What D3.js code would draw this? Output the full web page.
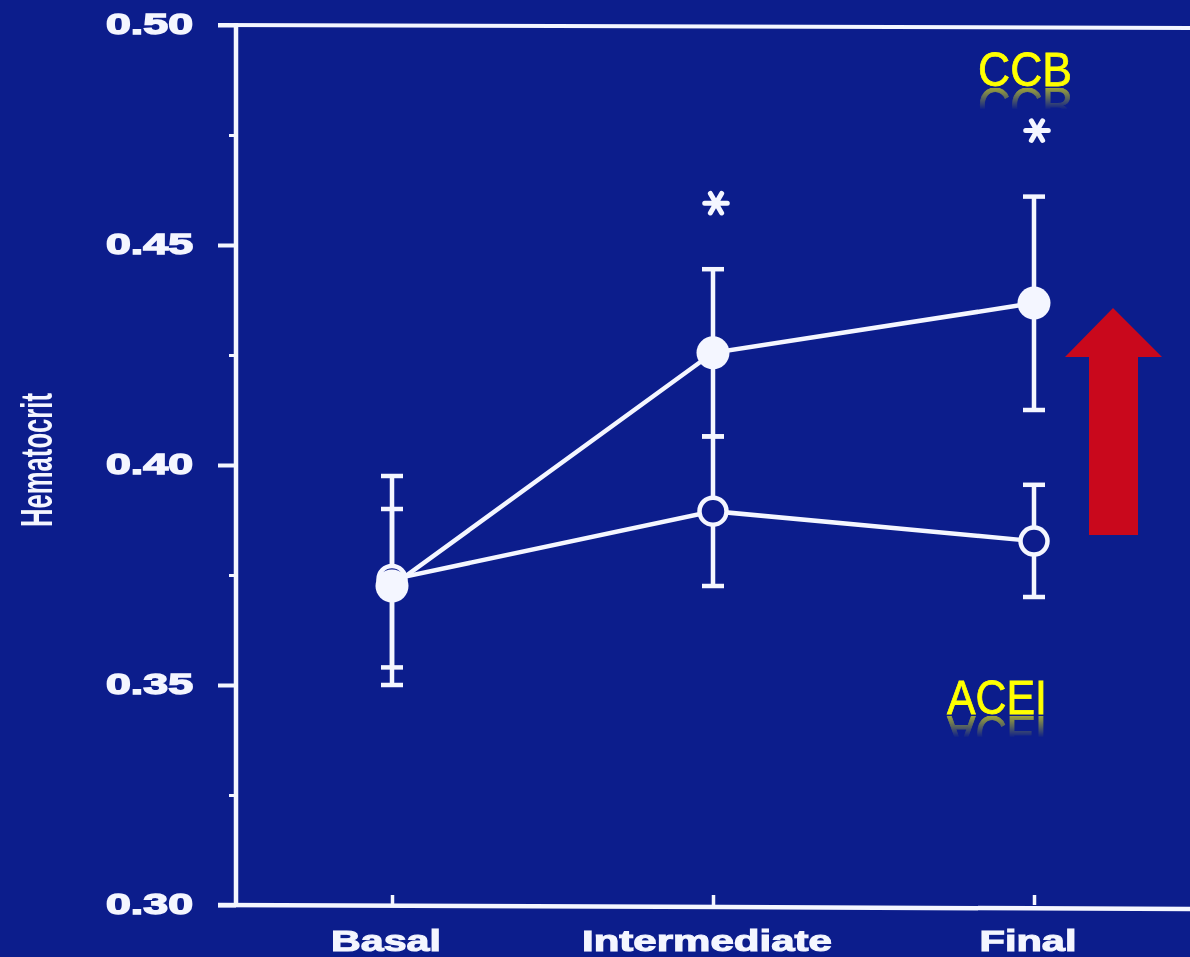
<!DOCTYPE html>
<html>
<head>
<meta charset="utf-8">
<script src="https://cdn.jsdelivr.net/npm/d3@7"></script>
<style>
  html, body { margin: 0; padding: 0; background: #0c1d8c; }
  svg { display: block; }
</style>
</head>
<body>
<svg id="chart" width="1190" height="957"></svg>
<script>
// Hematocrit over the study period, CCB vs ACEI (mean with error bars)
const categories = ["Basal", "Intermediate", "Final"];

const ccbMean  = [0.3725, 0.4255, 0.4368];
const ccbUpper = [0.3975, 0.4445, 0.4610];
const ccbLower = [0.3500, 0.4065, 0.4125];

const aceiMean  = [0.3740, 0.3895, 0.3827];
const aceiUpper = [0.3900, 0.4065, 0.3955];
const aceiLower = [0.3540, 0.3725, 0.3700];

const significant = [false, true, true];   // asterisk above CCB point

const yMajorTicks = [0.30, 0.35, 0.40, 0.45, 0.50];
const yMinorTicks = [0.325, 0.375, 0.425, 0.475];
const yTickLabels = ["0.30", "0.35", "0.40", "0.45", "0.50"];

const W = 1190, H = 957;
const BG = "#0c1d8c";
const INK = "#f4f6ff";
const FONT = "Liberation Sans, Arial, Helvetica, sans-serif";

const svg = d3.select("#chart");
svg.append("rect").attr("width", W).attr("height", H).attr("fill", BG);

const defs = svg.append("defs");
const soft = defs.append("filter").attr("id", "soft").attr("x", "-5%").attr("y", "-5%").attr("width", "110%").attr("height", "110%");
soft.append("feGaussianBlur").attr("stdDeviation", 0.6);

const axisX0 = 236, plotRight = W;
const y = d3.scaleLinear().domain([0.30, 0.50]).range([905, 25]);
const x = d3.scalePoint().domain(categories).range([392, 1034]);

const g = svg.append("g").attr("filter", "url(#soft)");

// Frame: left axis, top line, bottom axis
g.append("line").attr("x1", axisX0).attr("x2", axisX0).attr("y1", y(0.50) - 2).attr("y2", y(0.30) + 2)
  .attr("stroke", INK).attr("stroke-width", 4.5);
g.append("line").attr("x1", axisX0 - 18).attr("x2", plotRight).attr("y1", y(0.50)).attr("y2", y(0.50) + 3)
  .attr("stroke", INK).attr("stroke-width", 4);
g.append("line").attr("x1", axisX0 - 18).attr("x2", plotRight).attr("y1", y(0.30)).attr("y2", y(0.30) + 4)
  .attr("stroke", INK).attr("stroke-width", 4.5);

// Y axis ticks via d3.axisLeft
const yAxis = d3.axisLeft(y).tickValues(yMajorTicks).tickSize(18).tickFormat("");
const yAxisG = g.append("g").attr("transform", `translate(${axisX0},0)`).call(yAxis);
yAxisG.select(".domain").remove();
yAxisG.selectAll(".tick line").attr("stroke", INK).attr("stroke-width", 4);

const yMinor = d3.axisLeft(y).tickValues(yMinorTicks).tickSize(7).tickFormat("");
const yMinorG = g.append("g").attr("transform", `translate(${axisX0},0)`).call(yMinor);
yMinorG.select(".domain").remove();
yMinorG.selectAll(".tick line").attr("stroke", INK).attr("stroke-width", 3);

// Y tick labels
g.selectAll("text.ylab").data(yMajorTicks).join("text")
  .attr("class", "ylab")
  .attr("x", 193).attr("y", d => y(d) + 9)
  .attr("text-anchor", "end")
  .attr("font-family", FONT)
  .attr("font-weight", "bold").attr("font-size", 29)
  .attr("textLength", 87).attr("lengthAdjust", "spacingAndGlyphs")
  .attr("fill", INK).attr("stroke", INK).attr("stroke-width", 1.4)
  .text((d, i) => yTickLabels[i]);

// X axis ticks (pointing up into the plot)
const xAxis = d3.axisTop(x).tickSize(10).tickFormat("");
const xAxisG = g.append("g").attr("transform", `translate(0,${y(0.30)})`).call(xAxis);
xAxisG.select(".domain").remove();
xAxisG.selectAll(".tick line").attr("stroke", INK).attr("stroke-width", 3.5);

// X labels
const xLabelWidths = { "Basal": 110, "Intermediate": 250, "Final": 97 };
g.selectAll("text.xlab").data(categories).join("text")
  .attr("class", "xlab")
  .attr("x", d => x(d) - 6).attr("y", 951)
  .attr("text-anchor", "middle")
  .attr("font-family", FONT)
  .attr("font-weight", "bold").attr("font-size", 30)
  .attr("textLength", d => xLabelWidths[d]).attr("lengthAdjust", "spacingAndGlyphs")
  .attr("fill", INK).attr("stroke", INK).attr("stroke-width", 1.1)
  .text(d => d);

// Y axis title (tall, condensed lettering)
g.append("text")
  .attr("transform", `translate(52,460) rotate(-90)`)
  .attr("text-anchor", "middle")
  .attr("font-family", FONT)
  .attr("font-weight", "bold")
  .attr("font-size", 44)
  .attr("textLength", 134).attr("lengthAdjust", "spacingAndGlyphs")
  .attr("fill", INK)
  .text("Hematocrit");

// Series
const series = [
  { name: "ACEI", mean: aceiMean, upper: aceiUpper, lower: aceiLower, filled: false },
  { name: "CCB",  mean: ccbMean,  upper: ccbUpper,  lower: ccbLower,  filled: true }
];

const line = d3.line().x((d, i) => x(categories[i])).y(d => y(d));

series.forEach(s => {
  g.append("path").datum(s.mean).attr("d", line)
    .attr("fill", "none").attr("stroke", INK).attr("stroke-width", 4.5);
});

const capHalf = 11;
series.forEach(s => {
  const eb = g.append("g");
  categories.forEach((c, i) => {
    const cx = x(c);
    eb.append("line").attr("x1", cx).attr("x2", cx).attr("y1", y(s.upper[i])).attr("y2", y(s.lower[i]))
      .attr("stroke", INK).attr("stroke-width", 4.5);
    [s.upper[i], s.lower[i]].forEach(v => {
      eb.append("line").attr("x1", cx - capHalf).attr("x2", cx + capHalf).attr("y1", y(v)).attr("y2", y(v))
        .attr("stroke", INK).attr("stroke-width", 4.5);
    });
  });
});

series.forEach(s => {
  g.selectAll(null).data(s.mean).join("circle")
    .attr("cx", (d, i) => x(categories[i]))
    .attr("cy", d => y(d))
    .attr("r", s.filled ? 16.5 : 13.5)
    .attr("fill", s.filled ? INK : BG)
    .attr("stroke", INK).attr("stroke-width", s.filled ? 0 : 4.5);
});

// Significance asterisks above CCB error bars
const star = d3.symbol().type(d3.symbolAsterisk).size(360);
categories.forEach((c, i) => {
  if (!significant[i]) return;
  g.append("path")
    .attr("d", star())
    .attr("transform", `translate(${x(c) + 3},${y(ccbUpper[i]) - 66}) rotate(90)`)
    .attr("fill", "none").attr("stroke", INK).attr("stroke-width", 5).attr("stroke-linecap", "round");
});

// Series labels with a fading reflection
const grad = defs.append("linearGradient").attr("id", "fade").attr("x1", 0).attr("y1", 0).attr("x2", 0).attr("y2", 1);
grad.append("stop").attr("offset", "0%").attr("stop-color", "#fff").attr("stop-opacity", 0.0);
grad.append("stop").attr("offset", "40%").attr("stop-color", "#fff").attr("stop-opacity", 0.0);
grad.append("stop").attr("offset", "100%").attr("stop-color", "#fff").attr("stop-opacity", 0.6);

function seriesLabel(text, cx, baseline, width, id) {
  const fontSize = 49;
  const common = sel => sel
    .attr("x", cx).attr("text-anchor", "middle")
    .attr("font-family", FONT)
    .attr("font-size", fontSize)
    .attr("textLength", width).attr("lengthAdjust", "spacingAndGlyphs")
    .attr("fill", "#ffff00").attr("stroke", "#ffff00").attr("stroke-width", 0.8)
    .text(text);

  const mask = defs.append("mask").attr("id", id).attr("maskUnits", "userSpaceOnUse");
  mask.append("rect").attr("x", cx - width).attr("y", baseline - 36).attr("width", width * 2).attr("height", 36)
    .attr("fill", "url(#fade)");

  // mirrored copy below the baseline
  svg.append("g")
    .attr("transform", `translate(0,${2 * baseline + 2}) scale(1,-1)`)
    .append("g").attr("mask", `url(#${id})`)
    .append("text").attr("y", baseline).call(common);

  svg.append("text").attr("y", baseline).call(common);
}

seriesLabel("CCB", 1025, 86, 94, "reflCCB");
seriesLabel("ACEI", 997, 714, 100, "reflACEI");

// Red up arrow
const arrow = [[1089, 535], [1089, 357], [1065, 357], [1113, 308], [1162, 357], [1138, 357], [1138, 535]];
svg.append("path")
  .attr("d", d3.line()(arrow) + "Z")
  .attr("fill", "#c9081c");
</script>
</body>
</html>
